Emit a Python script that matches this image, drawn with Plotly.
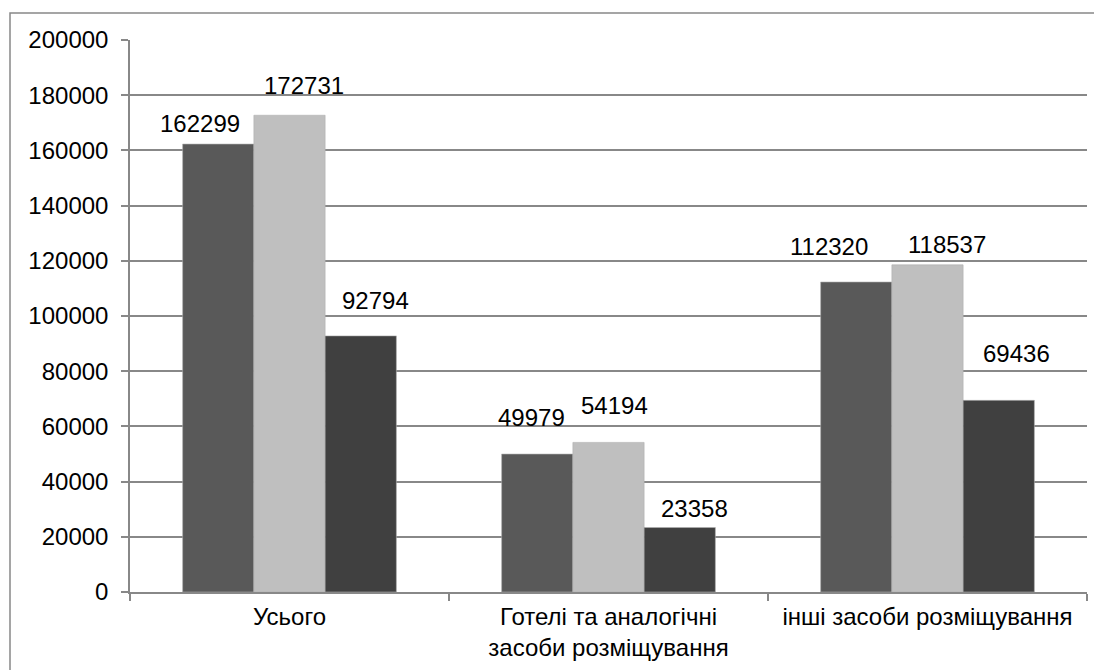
import plotly.graph_objects as go

categories = ["Усього", "Готелі та аналогічні<br>засоби розміщування", "інші засоби розміщування"]
series_a = [162299, 49979, 112320]
series_b = [172731, 54194, 118537]
series_c = [92794, 23358, 69436]
colors = ["#595959", "#bfbfbf", "#404040"]
y_ticks = list(range(0, 200001, 20000))

# label nudges (px) as placed in the reference: horizontal shift and gap above bar
label_dx = [[-18, -6, -27], [14, 6, 19], [15, 15, 18]]
label_gap = [[11, 27, 26], [20, 27, 11], [26, 10, 37]]

FONT = "Liberation Sans, Arial"
FS = 24
fig = go.Figure()
for vals, col in zip([series_a, series_b, series_c], colors):
    fig.add_trace(go.Bar(
        x=categories, y=vals, marker=dict(color=col, line=dict(color="#b0b0b0", width=0.6)),
        showlegend=False,
    ))

# page body has an 8px default margin, so the figure is offset by 8px
W, H = 1094, 662
L, R, T, B = 122, 15, 32, 78
pw = W - L - R
ph = H - T - B
bargap = 0.33
group_w = pw / len(categories)
bar_w = group_w * (1 - bargap) / 3

for si, vals in enumerate([series_a, series_b, series_c]):
    for ci, (cat, v) in enumerate(zip(categories, vals)):
        fig.add_annotation(
            x=cat, y=v, xref="x", yref="y", text=str(v), showarrow=False,
            xanchor="center", yanchor="bottom",
            xshift=(si - 1) * bar_w + label_dx[si][ci], yshift=label_gap[si][ci] - 6,
            font=dict(family=FONT, size=FS, color="#000000"),
        )

fig.update_layout(
    width=W, height=H, barmode="group", bargap=bargap, bargroupgap=0,
    margin=dict(l=L, r=R, t=T, b=B),
    paper_bgcolor="white", plot_bgcolor="white",
    font=dict(family=FONT, size=FS, color="#000000"),
    xaxis=dict(showline=True, linecolor="#888888", linewidth=1.5, ticks="outside",
               tickson="boundaries", ticklen=7, tickcolor="#888888", tickwidth=1.5,
               tickfont=dict(size=FS), showgrid=False, ticklabelstandoff=2,
               automargin=False),
    yaxis=dict(range=[0, 200000], tickvals=y_ticks, ticktext=[str(v) for v in y_ticks],
               showline=True, linecolor="#888888", linewidth=1.5, ticks="outside",
               ticklen=7, tickcolor="#888888", tickwidth=1.5, showgrid=True,
               gridcolor="#888888", gridwidth=1.5, zeroline=False, tickfont=dict(size=FS),
               ticklabelstandoff=8, automargin=False),
)

fig.add_shape(type="rect", xref="paper", yref="paper",
              x0=(2 - L) / pw, x1=(W + 20 - L) / pw,
              y0=-(B + 20) / ph, y1=1 + (T - 5) / ph,
              line=dict(color="#888888", width=1.5), fillcolor="rgba(0,0,0,0)", layer="below")

fig.write_html("out.html")
